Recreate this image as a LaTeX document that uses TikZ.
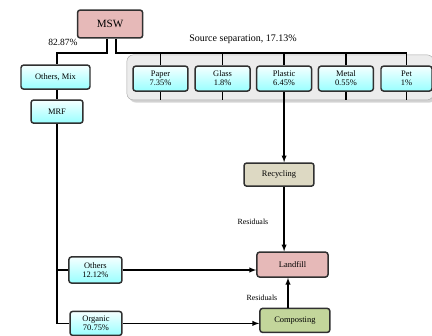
\documentclass[tikz,border=0pt]{standalone}
\usepackage{fontspec}
\setmainfont{Liberation Serif}
\usepackage{tikz}
\usetikzlibrary{arrows}
\definecolor{pinkbox}{HTML}{E6B9B8}
\definecolor{tanbox}{HTML}{DDD9C3}
\definecolor{greenbox}{HTML}{C3D69B}
\definecolor{edgegray}{HTML}{303030}
\tikzset{flow/.style={->, >=latex, line width=1.2pt}}
\tikzset{bus/.style={line width=1.2pt}}
\tikzset{box/.style={draw=edgegray, line width=1.4pt, rounded corners=2.5pt, align=center, inner sep=1pt, font=\fontsize{8}{8.5}\selectfont}}
\tikzset{bluebox/.style={box, top color=cyan!4, bottom color=cyan!40}}

\begin{document}
\begin{tikzpicture}
    \useasboundingbox (0, 0) rectangle (14.4, 11.2);
    % source separation panel
    \draw[gray!25, fill=gray!35, rounded corners=6pt] (4.31, 7.79) rectangle (14.53, 9.29);
    \draw[gray!70, fill=gray!15, rounded corners=6pt] (4.23, 7.87) rectangle (14.45, 9.37);
    \node[box, fill=pinkbox, minimum width=2.17cm, minimum height=0.93cm, font=\fontsize{10.5}{12}\selectfont] (MSW) at (3.67, 10.4) {MSW};
    \node[bluebox, minimum width=2.3cm, minimum height=0.8cm] (Mix) at (1.85, 8.63) {Others, Mix};
    \node[bluebox, minimum width=1.73cm, minimum height=0.77cm] (MRF) at (1.9, 7.48) {MRF};
    \node[bluebox, minimum width=1.83cm, minimum height=0.83cm] (Paper) at (5.35, 8.58) {Paper\\7.35\%};
    \node[bluebox, minimum width=1.83cm, minimum height=0.83cm] (Glass) at (7.42, 8.58) {Glass\\1.8\%};
    \node[bluebox, minimum width=1.83cm, minimum height=0.83cm] (Plastic) at (9.47, 8.58) {Plastic\\6.45\%};
    \node[bluebox, minimum width=1.83cm, minimum height=0.83cm] (Metal) at (11.53, 8.58) {Metal\\0.55\%};
    \node[bluebox, minimum width=1.7cm, minimum height=0.83cm] (Pet) at (13.55, 8.58) {Pet\\1\%};
    \node[box, fill=tanbox, minimum width=2.33cm, minimum height=0.77cm] (Recycling) at (9.3, 5.38) {Recycling};
    \node[box, fill=pinkbox, minimum width=2.37cm, minimum height=0.83cm] (Landfill) at (9.75, 2.38) {Landfill};
    \node[box, fill=greenbox, minimum width=2.33cm, minimum height=0.8cm] (Composting) at (9.83, 0.52) {Composting};
    \node[bluebox, minimum width=1.77cm, minimum height=0.87cm] (Others) at (3.18, 2.2) {Others\\12.12\%};
    \node[bluebox, minimum width=1.73cm, minimum height=0.8cm] (Organic) at (3.2, 0.42) {Organic\\70.75\%};
    \node[font=\fontsize{9}{10}\selectfont] (share) at (2.1, 9.77) {82.87\%};
    \node[font=\fontsize{9.5}{11}\selectfont] (source) at (8.1, 9.9) {Source separation, 17.13\%};
    \node[font=\fontsize{7.5}{8}\selectfont] (res1) at (8.43, 3.8) {Residuals};
    \node[font=\fontsize{7.5}{8}\selectfont] (res2) at (8.73, 1.27) {Residuals};
    % mixed branch
    \coordinate (mL) at (3.57, 9.43);
    \coordinate (mR) at (3.87, 9.43);
    \draw[bus] (MSW.south -| mL) -- (mL) -| (Mix.north -| MRF.north);
    \draw[bus] (Mix.south -| MRF.north) -- (MRF.north);
    \draw[bus] (MRF.south) |- (Organic.west);
    \draw[bus] (MRF.south |- Others.west) -- (Others.west);
    % separated branch
    \draw[bus] (MSW.south -| mR) -- (mR) -- (mR -| Pet.north);
    \foreach \b in {Paper, Glass, Plastic, Metal, Pet}
        \draw[bus] (mR -| \b.north) -- (\b.north);
    \foreach \b in {Paper, Glass, Metal, Pet}
        \draw[bus] (\b.south) -- ++(0, -0.27);
    \draw[flow] (Plastic.south) -- (Plastic.south |- Recycling.north);
    \draw[flow] (Plastic.south |- Recycling.south) -- (Plastic.south |- Landfill.north);
    \draw[flow] (Others.east) -- (Landfill.west |- Others.east);
    \draw[flow] (Organic.east) -- (Composting.west |- Organic.east);
    \draw[flow] (9.6, 0 |- Composting.north) -- (9.6, 0 |- Landfill.south);
\end{tikzpicture}
\end{document}
